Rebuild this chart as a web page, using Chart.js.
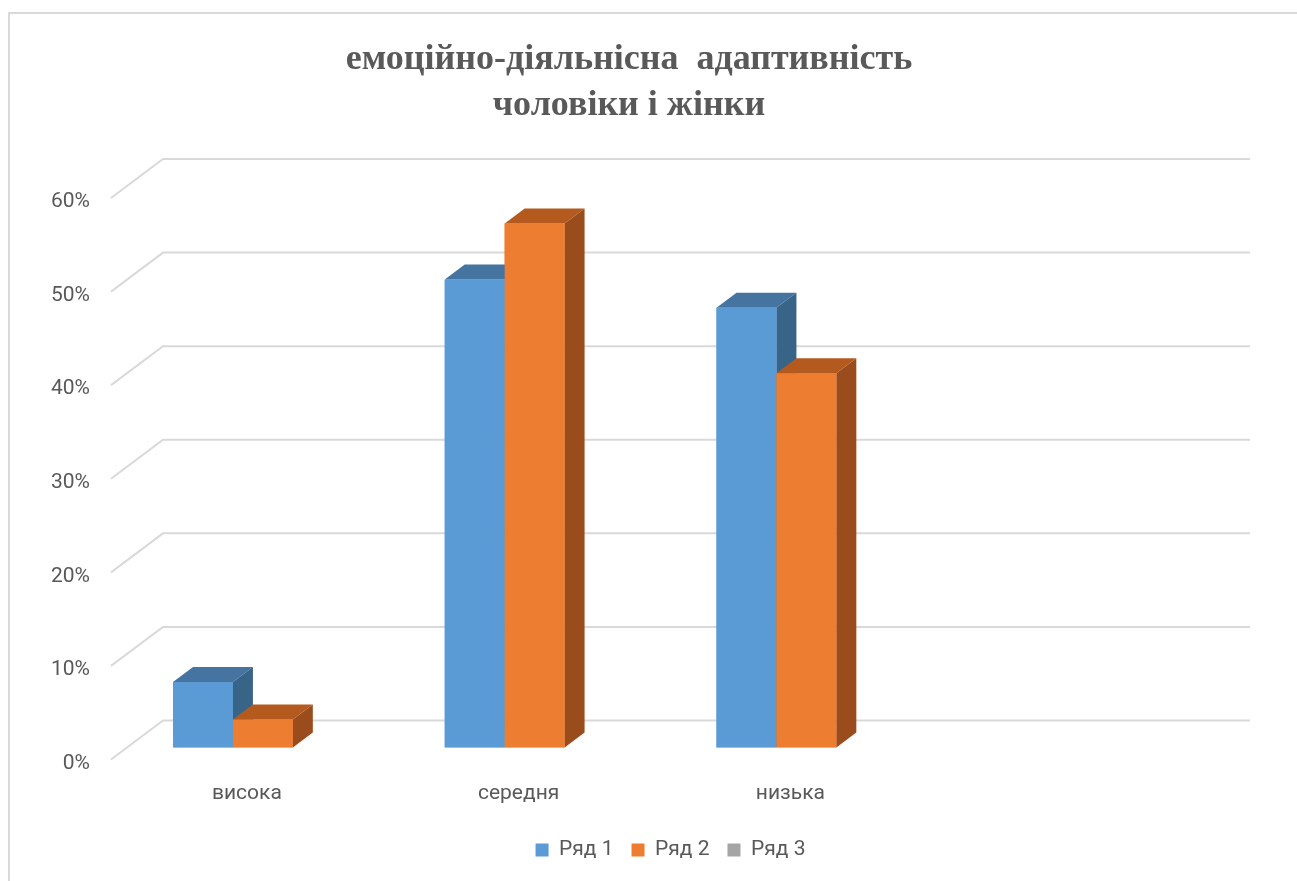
<!DOCTYPE html>
<html>
<head>
<meta charset="utf-8">
<script src="https://cdn.jsdelivr.net/npm/chart.js@4"></script>
<style>
  html, body { margin: 0; padding: 0; background: #fff; overflow: hidden; }
  #frame { position: absolute; left: 8px; top: 12px; right: 0; bottom: 0;
           border-left: 2px solid #d9d9d9; border-top: 2px solid #d9d9d9; }
  #wrap { position: absolute; left: 0; top: 0; width: 1297px; height: 881px; }
</style>
</head>
<body>
<div id="frame"></div>
<div id="wrap"><canvas id="myChart"></canvas></div>
<script>
const labels = ['висока', 'середня', 'низька', ''];
const series1 = [7, 50, 47, null];
const series2 = [3, 56, 40, null];
const series3 = [null, null, null, null];
const seriesNames = ['Ряд 1', 'Ряд 2', 'Ряд 3'];
const titleLines = ['емоційно-діяльнісна  адаптивність', 'чоловіки і жінки'];

const frontColors = ['#5b9bd5', '#ed7d31', '#a5a5a5'];
const topColors = ['#44749f', '#b45a1f', '#7c7c7c'];
const sideColors = ['#386488', '#9a4c1c', '#6a6a6a'];

// глибина стовпчика і зсув стінки
const DX = 20, DY = 15;
const WALL_DX = 36, WALL_DY = 27;
const FRONT_DX = 16, FRONT_DY = 12;

const textColor = '#595959';
const font = { family: 'Roboto', size: 21 };

const depth3d = {
  id: 'depth3d',
  beforeDatasetsDraw(chart) {
    const { ctx, chartArea, scales: { y } } = chart;
    ctx.save();
    ctx.strokeStyle = '#d9d9d9';
    ctx.lineWidth = 2;
    y.ticks.forEach(t => {
      const py = y.getPixelForValue(t.value);
      ctx.beginPath();
      ctx.moveTo(chartArea.left - FRONT_DX, py + FRONT_DY);
      ctx.lineTo(chartArea.left + WALL_DX, py - WALL_DY);
      ctx.lineTo(chartArea.right + WALL_DX, py - WALL_DY);
      ctx.stroke();
    });
    ctx.restore();
  },
  afterDatasetsDraw(chart) {
    const ctx = chart.ctx;
    ctx.save();
    chart.data.datasets.forEach((ds, i) => {
      const meta = chart.getDatasetMeta(i);
      meta.data.forEach((bar, j) => {
        if (ds.data[j] == null) return;
        const { x, y, base, width } = bar.getProps(['x', 'y', 'base', 'width'], true);
        const l = x - width / 2, r = x + width / 2;
        // верх
        ctx.fillStyle = topColors[i];
        ctx.beginPath();
        ctx.moveTo(l, y);
        ctx.lineTo(r, y);
        ctx.lineTo(r + DX, y - DY);
        ctx.lineTo(l + DX, y - DY);
        ctx.closePath();
        ctx.fill();
        // бік
        ctx.fillStyle = sideColors[i];
        ctx.beginPath();
        ctx.moveTo(r, y);
        ctx.lineTo(r + DX, y - DY);
        ctx.lineTo(r + DX, base - DY);
        ctx.lineTo(r, base);
        ctx.closePath();
        ctx.fill();
        // фронт
        ctx.fillStyle = frontColors[i];
        ctx.fillRect(l, y, width, base - y);
      });
    });
    ctx.restore();
  }
};

const data = {
  labels: labels,
  datasets: [series1, series2, series3].map((d, i) => ({
    label: seriesNames[i],
    data: d,
    backgroundColor: frontColors[i],
    categoryPercentage: 0.6615,
    barPercentage: 1
  }))
};

const config = {
  type: 'bar',
  data: data,
  plugins: [depth3d],
  options: {
    responsive: true,
    maintainAspectRatio: false,
    animation: false,
    layout: { padding: { left: 44, right: 83, top: 0, bottom: 10.5 } },
    plugins: {
      title: {
        display: true,
        text: titleLines,
        color: textColor,
        font: { family: 'Liberation Serif', size: 36, weight: 'bold', lineHeight: 1.3 },
        padding: { top: 36, bottom: 56.4 }
      },
      legend: {
        position: 'bottom',
        fullSize: false,
        labels: { boxWidth: 13, boxHeight: 13, padding: 18, color: textColor, font: font }
      },
      tooltip: { enabled: false }
    },
    scales: {
      x: {
        afterFit(scale) { scale.height = 74; },
        grid: { display: false, drawTicks: false },
        border: { display: false },
        ticks: { padding: 34, labelOffset: -16, color: textColor, font: font, maxRotation: 0, autoSkip: false }
      },
      y: {
        min: 0,
        max: 60,
        afterFit(scale) { scale.width = 83; },
        grid: { display: false, drawTicks: false },
        border: { display: false },
        ticks: { stepSize: 10, padding: 37, labelOffset: 16, color: textColor, font: font,
                 callback: v => v + '%' }
      }
    }
  }
};

new Chart(document.getElementById('myChart'), config);
</script>
</body>
</html>
